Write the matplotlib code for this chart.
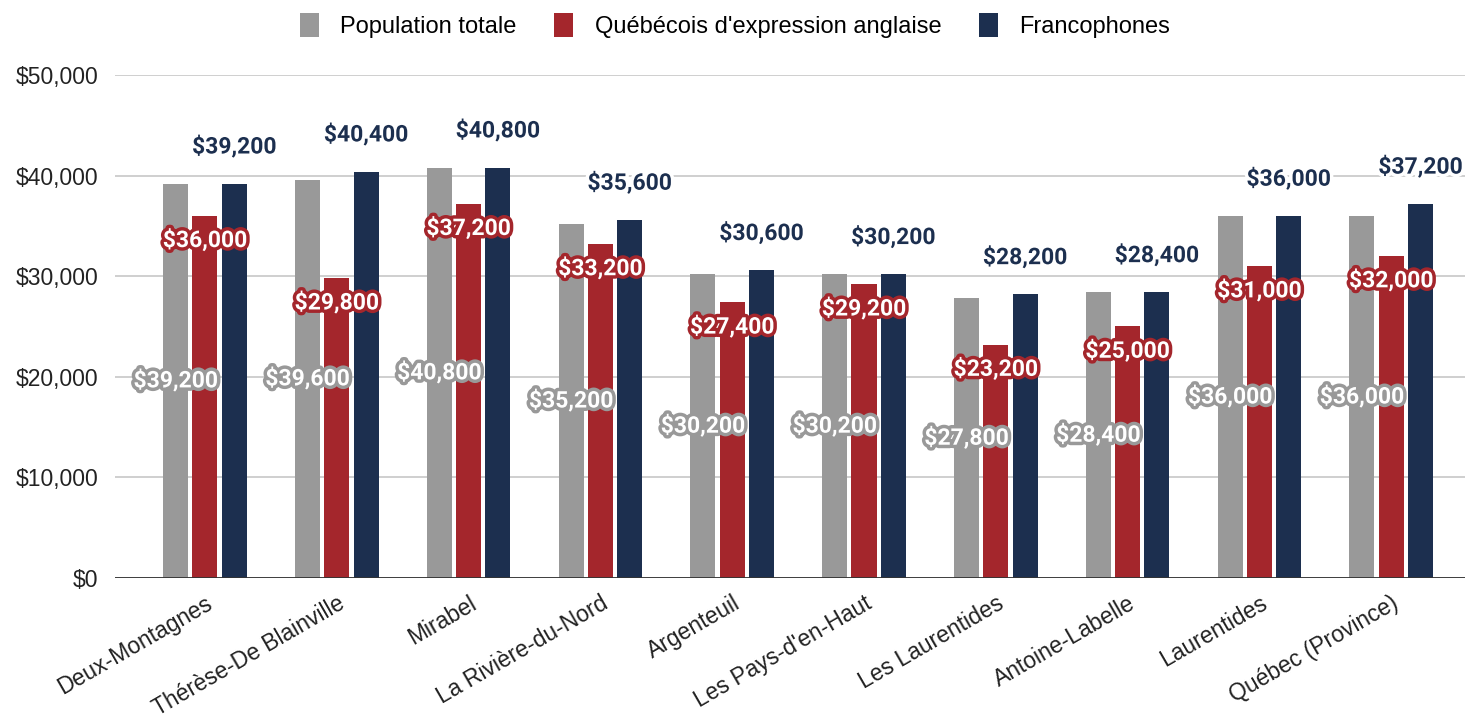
import matplotlib.pyplot as plt
import matplotlib.patheffects as pe
from matplotlib.ticker import FuncFormatter
import numpy as np

regions = ['Deux-Montagnes', 'Thérèse-De Blainville', 'Mirabel', 'La Rivière-du-Nord',
           'Argenteuil', "Les Pays-d'en-Haut", 'Les Laurentides', 'Antoine-Labelle',
           'Laurentides', 'Québec (Province)']
pop_totale = [39200, 39600, 40800, 35200, 30200, 30200, 27800, 28400, 36000, 36000]
anglais = [36000, 29800, 37200, 33200, 27400, 29200, 23200, 25000, 31000, 32000]
franco = [39200, 40400, 40800, 35600, 30600, 30200, 28200, 28400, 36000, 37200]
series_names = ['Population totale', "Québécois d'expression anglaise", 'Francophones']

grey = '#999999'
red = '#a4262c'
navy = '#1c2f4f'

fig = plt.figure(figsize=(14.7, 7.25), dpi=100)
ax = fig.add_axes([0.0782, 0.2028, 0.9184, 0.6938])

x = np.arange(len(regions))
w = 0.19
off = 0.222

ax.bar(x - off, pop_totale, w, color=grey, label=series_names[0], zorder=3)
ax.bar(x, anglais, w, color=red, label=series_names[1], zorder=3)
ax.bar(x + off, franco, w, color=navy, label=series_names[2], zorder=3)

ax.set_ylim(0, 50000)
ax.set_xlim(-0.683, 9.56)
ax.set_yticks(range(0, 50001, 10000))
ax.yaxis.set_major_formatter(FuncFormatter(lambda v, p: '${:,.0f}'.format(v)))
ax.grid(axis='y', color='#cccccc', linewidth=1.3, zorder=0)
ax.axhline(0, color='#333333', linewidth=1.3, zorder=4)
for s in ax.spines.values():
    s.set_visible(False)
ax.tick_params(axis='both', length=0, labelsize=16.5, colors='#222222')
ax.tick_params(axis='y', pad=12)
ax.set_xticks(x)
ax.set_xticklabels(regions, rotation=30, ha='right', rotation_mode='anchor',
                   fontsize=16.5, family='Liberation Sans')
for t in ax.get_yticklabels():
    t.set_family('Liberation Sans')
ax.tick_params(axis='x', pad=10)

fmt = lambda v: '${:,.0f}'.format(v)
lab_font = dict(family='Roboto', fontweight='bold', fontsize=16.5, ha='center', va='center', zorder=6)

for xi, v in zip(x, pop_totale):
    ax.text(xi - off, v / 2, fmt(v), color='white',
            path_effects=[pe.withStroke(linewidth=5, foreground=grey)], **lab_font)
for xi, v in zip(x, anglais):
    ax.text(xi, v - 2450, fmt(v), color='white',
            path_effects=[pe.withStroke(linewidth=5, foreground=red)], **lab_font)
for xi, v in zip(x, franco):
    ax.text(xi + off, v + 3650, fmt(v), color=navy,
            path_effects=[pe.withStroke(linewidth=5, foreground='white')], **lab_font)

fig.legend(loc='upper center', bbox_to_anchor=(0.5, 1.012), ncol=3, frameon=False,
           prop={'family': 'Liberation Sans', 'size': 17},
           handlelength=0.8, handleheight=1.2, handletextpad=0.9, columnspacing=1.6)

fig.savefig('out.png', dpi=100)
